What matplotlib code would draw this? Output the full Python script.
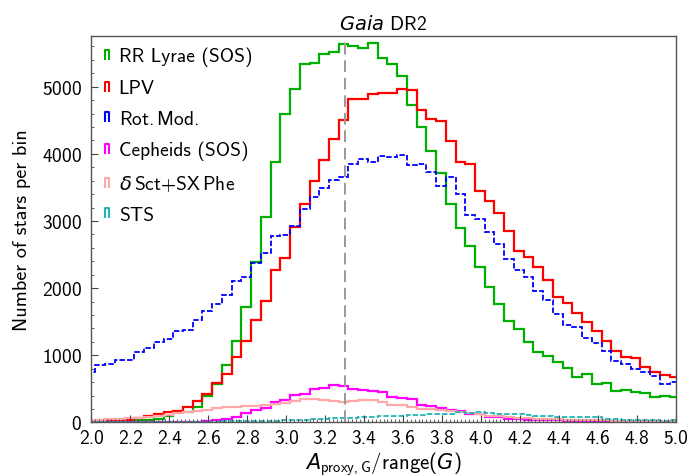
import numpy as np
import matplotlib
matplotlib.use('Agg')
import matplotlib.pyplot as plt
from matplotlib.lines import Line2D
from matplotlib.path import Path
from matplotlib.ticker import MultipleLocator, AutoMinorLocator

# bins of width 0.05 (edges 1.97 ... 5.02)
edges = np.round(np.arange(1.97, 5.0201, 0.05), 3)

rr_lyrae = [5, 5, 8, 10, 20, 30, 42, 52, 100, 150, 160, 225, 400, 575, 850, 1215,
            1724, 2383, 3053, 3881, 4590, 4962, 5334, 5349, 5483, 5518, 5632, 5607, 5583, 5657, 5430, 5334,
            5161, 4725, 4393, 4045, 3713, 3252, 2890, 2632, 2310, 2022, 1763, 1515, 1391, 1193, 1054, 985,
            905, 806, 672, 722, 573, 588, 474, 489, 459, 434, 374, 399, 374]
lpv = [20, 22, 25, 30, 42, 62, 100, 125, 160, 175, 235, 325, 425, 585, 720, 970,
       1218, 1525, 1803, 2269, 2453, 2914, 3251, 3589, 3906, 4228, 4506, 4813, 4823, 4888, 4903, 4913,
       4962, 4952, 4655, 4526, 4491, 4189, 3881, 3847, 3450, 3301, 3118, 2855, 2548, 2458, 2315, 2123,
       1861, 1777, 1624, 1490, 1366, 1218, 1069, 970, 955, 821, 746, 707, 682]
rot_mod = [746, 855, 865, 925, 935, 1050, 1115, 1200, 1240, 1365, 1380, 1525, 1665, 1760, 1900, 2100,
           2160, 2368, 2522, 2771, 2790, 2929, 3177, 3351, 3485, 3614, 3649, 3847, 3921, 3882, 3971, 3956,
           3976, 3832, 3842, 3728, 3520, 3659, 3400, 3087, 3037, 2839, 2656, 2433, 2274, 2160, 1962, 1828,
           1615, 1451, 1426, 1252, 1183, 1069, 920, 870, 796, 746, 687, 573, 598]
cepheids = [0, 0, 0, 0, 2, 3, 5, 8, 10, 10, 10, 12, 20, 40, 50, 80,
            140, 190, 220, 300, 330, 410, 430, 500, 510, 560, 540, 505, 480, 470, 450, 375,
            370, 350, 260, 240, 211, 180, 176, 130, 126, 80, 75, 55, 50, 40, 37, 35,
            30, 22, 20, 12, 10, 8, 6, 5, 4, 3, 3, 2, 2]
dsct = [40, 40, 45, 55, 65, 70, 85, 100, 115, 135, 150, 170, 185, 210, 225, 230,
        240, 245, 260, 275, 295, 325, 350, 345, 335, 320, 310, 315, 330, 335, 300, 265,
        255, 225, 205, 200, 185, 165, 150, 136, 120, 100, 90, 77, 65, 60, 55, 50,
        45, 40, 38, 35, 32, 30, 28, 25, 25, 22, 20, 20, 18]
sts = [2, 2, 3, 3, 4, 5, 5, 6, 7, 8, 9, 10, 12, 14, 16, 18,
       20, 22, 25, 28, 32, 36, 40, 45, 55, 62, 65, 72, 80, 85, 92, 95,
       100, 105, 112, 120, 126, 130, 150, 148, 152, 140, 128, 125, 120, 105, 100, 90,
       87, 85, 82, 80, 75, 55, 45, 40, 35, 32, 30, 28, 30]

labels = ['RR Lyrae (SOS)', 'LPV', r'Rot.$\,$Mod.', 'Cepheids (SOS)',
          r'$\delta\,$Sct$+$SX$\,$Phe', 'STS']
colors = ['#00b000', '#ff0000', '#0000ff', '#ff00ff', '#ffa8a8', '#20b4b4']
styles = ['-', '-', '--', '-', '-', '--']
series = [rr_lyrae, lpv, rot_mod, cepheids, dsct, sts]

plt.rcParams['font.family'] = ['cmss10', 'DejaVu Sans']
plt.rcParams['mathtext.fontset'] = 'custom'
plt.rcParams['mathtext.rm'] = 'cmss10'
plt.rcParams['mathtext.sf'] = 'cmss10'
plt.rcParams['mathtext.it'] = 'DejaVu Sans:italic'
plt.rcParams['axes.unicode_minus'] = False
plt.rcParams['axes.formatter.use_mathtext'] = True

fig = plt.figure(figsize=(6.91, 4.77), dpi=100)
ax = fig.add_axes([0.1324, 0.1122, 0.8452, 0.8096])

for vals, c, ls in zip(series, colors, styles):
    st = ax.stairs(vals, edges, color=c, lw=1.6, linestyle=ls, baseline=None)
    if ls == '--':
        st.set_linestyle((0, (3.0, 1.2)))
        st.set_linewidth(1.3)

ax.axvline(3.3, color='#999999', lw=1.4, ls=(0, (6, 3)))

ax.set_xlim(2.0, 5.0)
ax.set_ylim(0, 5750)
ax.xaxis.set_major_locator(MultipleLocator(0.2))
ax.xaxis.set_minor_locator(MultipleLocator(0.02))
ax.yaxis.set_major_locator(MultipleLocator(1000))
ax.yaxis.set_minor_locator(AutoMinorLocator(5))
ax.xaxis.set_major_formatter(matplotlib.ticker.FormatStrFormatter('%.1f'))
ax.tick_params(which='both', direction='in', top=False, right=False, labelsize=14,
               colors='#444444', labelcolor='black')
ax.tick_params(which='major', length=5)
ax.tick_params(which='minor', length=2.5)
ax.tick_params(axis='y', pad=7)
ax.tick_params(axis='x', pad=5)
for s in ax.spines.values():
    s.set_color('#555555')
    s.set_linewidth(1.0)

ax.set_xlabel(r'$A_{\mathrm{proxy,G}}/\mathrm{range}(G)$', fontsize=15, labelpad=1)
ax.set_ylabel('Number of stars per bin', fontsize=14.5, labelpad=8)
ax.set_title(r'$Gaia$ DR2', fontsize=14, pad=5)

marker = Path([(-0.45, -1), (-0.45, 1), (0.45, 1), (0.45, -1)],
              [Path.MOVETO, Path.LINETO, Path.LINETO, Path.LINETO])
handles = [Line2D([], [], ls='none', marker=marker, markersize=7, markeredgewidth=1.5,
                  markerfacecolor='none', markeredgecolor=c) for c in colors]
ax.legend(handles, labels, loc='upper left', frameon=False, fontsize=14,
          handlelength=0.5, handletextpad=0.35, labelspacing=0.66, borderaxespad=0.2,
          borderpad=0.35, numpoints=1)

fig.savefig('out.png', dpi=100)
